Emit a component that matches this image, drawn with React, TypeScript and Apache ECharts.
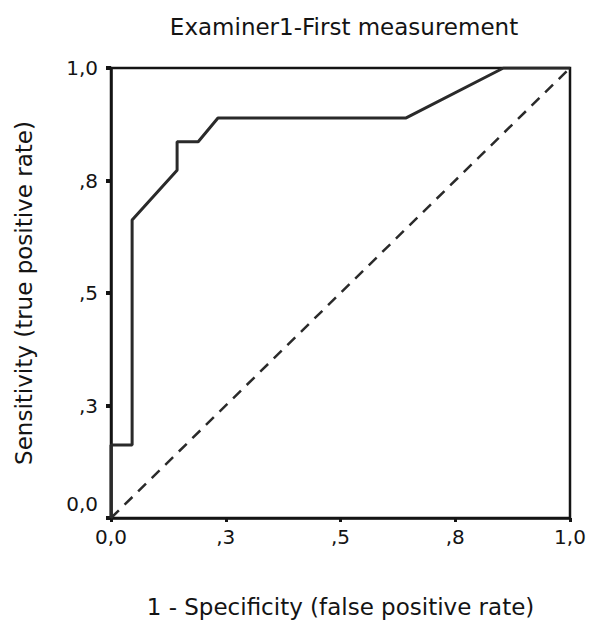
import React, { useEffect, useRef } from "react";
import * as echarts from "echarts";

// ROC curve: 1 - specificity vs. sensitivity
const fpr = [0, 0, 0.046, 0.046, 0.144, 0.144, 0.19, 0.233, 0.643, 0.855, 1];
const tpr = [0, 0.162, 0.162, 0.662, 0.773, 0.836, 0.836, 0.889, 0.889, 1, 1];

// Chance (reference) diagonal
const refX = [0, 1];
const refY = [0, 1];

// Tick positions and their printed labels
const tickValues = [0, 0.25, 0.5, 0.75, 1];
const tickLabels = ["0,0", ",3", ",5", ",8", "1,0"];

const titleText = "Examiner1-First measurement";
const xName = "1 - Specificity (false positive rate)";
const yName = "Sensitivity (true positive rate)";

const FONT = "'DejaVu Sans', Verdana, sans-serif";
const INK = "#141414";

function labelFor(v: number): string {
  const i = tickValues.findIndex((t) => Math.abs(t - v) < 1e-6);
  return i >= 0 ? tickLabels[i] : "";
}

export default function App() {
  const ref = useRef<HTMLDivElement>(null);

  useEffect(() => {
    if (!ref.current) return;
    const chart = echarts.init(ref.current, undefined, { renderer: "svg" });

    const roc = fpr.map((x, i) => [x, tpr[i]]);
    const diag = refX.map((x, i) => [x, refY[i]]);

    chart.setOption({
      animation: false,
      backgroundColor: "#ffffff",
      title: {
        text: titleText,
        left: 339,
        textAlign: "center",
        top: 10,
        textStyle: { fontFamily: FONT, fontSize: 23, fontWeight: "normal", color: INK },
      },
      grid: {
        left: 111,
        top: 68,
        right: 23,
        bottom: 108,
        show: true,
        borderColor: INK,
        borderWidth: 2.5,
        backgroundColor: "transparent",
      },
      xAxis: {
        type: "value",
        min: 0,
        max: 1,
        interval: 0.25,
        name: xName,
        nameLocation: "middle",
        nameGap: 77,
        nameTextStyle: { fontFamily: FONT, fontSize: 23, color: INK },
        splitLine: { show: false },
        axisLine: { show: true, lineStyle: { color: INK, width: 2.5 } },
        axisTick: { show: true, length: 4, lineStyle: { color: INK, width: 3 } },
        axisLabel: {
          fontFamily: FONT,
          fontSize: 20,
          color: INK,
          margin: 9,
          formatter: (v: number) => labelFor(v),
        },
      },
      yAxis: {
        type: "value",
        min: 0,
        max: 1,
        interval: 0.25,
        name: yName,
        nameLocation: "middle",
        nameGap: 76,
        nameTextStyle: { fontFamily: FONT, fontSize: 23, color: INK },
        splitLine: { show: false },
        axisLine: { show: true, lineStyle: { color: INK, width: 2.5 } },
        axisTick: { show: true, length: 5, lineStyle: { color: INK, width: 4 } },
        axisLabel: {
          fontFamily: FONT,
          fontSize: 20,
          color: INK,
          margin: 13,
          formatter: (v: number) => (v === 0 ? "{lift|" + labelFor(v) + "}" : labelFor(v)),
          rich: {
            lift: { fontFamily: FONT, fontSize: 20, color: INK, padding: [0, 0, 28, 0] },
          },
        },
      },
      series: [
        {
          type: "line",
          data: diag,
          showSymbol: false,
          lineStyle: { color: "#2a2a2a", width: 2.5, type: [11, 8] },
        },
        {
          type: "line",
          data: roc,
          showSymbol: false,
          lineStyle: { color: "#2a2a2a", width: 3 },
        },
      ],
    });

    return () => chart.dispose();
  }, []);

  return (
    <div
      ref={ref}
      style={{ position: "fixed", left: 0, top: 0, width: 593, height: 626, background: "#fff" }}
    />
  );
}
